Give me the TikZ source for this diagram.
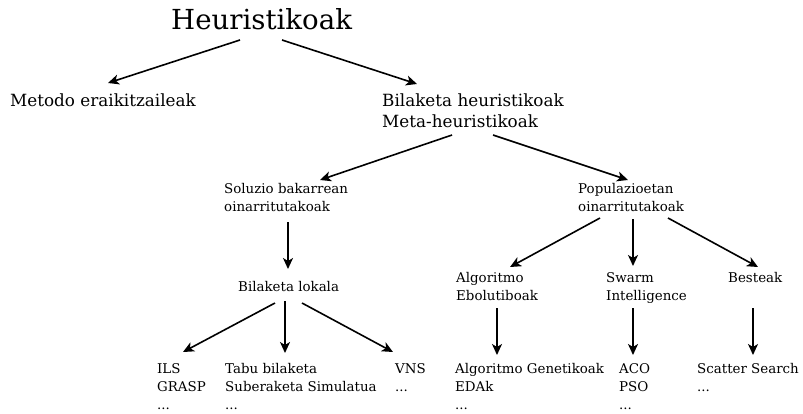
\documentclass[tikz,border=0pt]{standalone}
\usepackage{fontspec}
\setmainfont{DejaVu Serif}
\usepackage{tikz}
\tikzset{title node/.style={anchor=base west,inner sep=0pt,font=\fontsize{27.6}{32}\selectfont},
mid node/.style={anchor=base west,inner sep=0pt,align=left,font=\fontsize{16.8}{21}\selectfont},
leaf node/.style={anchor=base west,inner sep=0pt,align=left,font=\fontsize{13.4}{18}\selectfont},
arr/.style={-{Stealth[length=11pt,width=10pt,inset=3pt]},line width=1.6pt},
}
\usetikzlibrary{arrows.meta}

\begin{document}
\begin{tikzpicture}[x=1pt,y=-1pt]
			\useasboundingbox (0,0) rectangle (803,413);
			
			%% top levels (nodes sit on the baseline of their last line)
			\node[title node] (heur) at (171,29) {Heuristikoak};
			\node[mid node] (metodo) at (10,106) {Metodo eraikitzaileak};
			\node[mid node] (bilaketa) at (382,127) {Bilaketa heuristikoak\\Meta-heuristikoak};
			
			%% solution / population
			\node[leaf node] (soluzio) at (224,211) {Soluzio bakarrean\\oinarritutakoak};
			\node[leaf node] (popul) at (578,211) {Populazioetan\\oinarritutakoak};
			\node[leaf node] (lokala) at (238,291) {Bilaketa lokala};
			\node[leaf node] (ebol) at (456,300) {Algoritmo\\Ebolutiboak};
			\node[leaf node] (swarm) at (606,300) {Swarm\\Intelligence};
			\node[leaf node] (besteak) at (728,282) {Besteak};
			
			%% leaves
			\node[leaf node] (ils) at (157,409) {ILS\\GRASP\\...};
			\node[leaf node] (tabu) at (225,409) {Tabu bilaketa\\Suberaketa Simulatua\\...};
			\node[leaf node] (vns) at (395,391) {VNS\\...};
			\node[leaf node] (genet) at (455,409) {Algoritmo Genetikoak\\EDAk\\...};
			\node[leaf node] (aco) at (619,409) {ACO\\PSO\\...};
			\node[leaf node] (scatter) at (697,391) {Scatter Search\\...};
			
			\path[arr]
			([shift={(69,11)}]heur.base west) edge ([shift={(98,-23)}]metodo.base west)
			([shift={(111,11)}]heur.base west) edge ([shift={(35,-43)}]bilaketa.base west)
			([shift={(70,8)}]bilaketa.base west) edge ([shift={(96,-31)}]soluzio.base west)
			([shift={(111,8)}]bilaketa.base west) edge ([shift={(50,-31)}]popul.base west)
			([shift={(64,11)}]soluzio.base west) edge ([shift={(50,-22)}]lokala.base west)
			([shift={(22,7)}]popul.base west) edge ([shift={(54,-33)}]ebol.base west)
			([shift={(55,8)}]popul.base west) edge ([shift={(27,-34)}]swarm.base west)
			([shift={(90,7)}]popul.base west) edge ([shift={(30,-15)}]besteak.base west)
			([shift={(37,12)}]lokala.base west) edge ([shift={(26,-57)}]ils.base west)
			([shift={(47,10)}]lokala.base west) edge ([shift={(60,-56)}]tabu.base west)
			([shift={(64,12)}]lokala.base west) edge ([shift={(-2,-39)}]vns.base west)
			([shift={(41,8)}]ebol.base west) edge ([shift={(42,-54)}]genet.base west)
			([shift={(27,8)}]swarm.base west) edge ([shift={(14,-54)}]aco.base west)
			([shift={(25,26)}]besteak.base west) edge ([shift={(56,-36)}]scatter.base west)
			;
			\end{tikzpicture}
\end{document}
